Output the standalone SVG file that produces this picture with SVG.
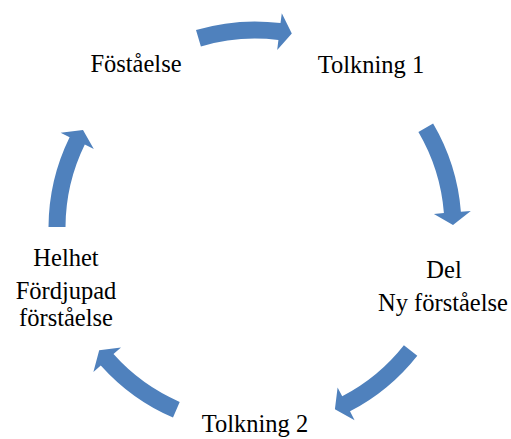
<svg xmlns="http://www.w3.org/2000/svg" width="511" height="439" viewBox="0 0 511 439">
<style>
.arrow{fill:#4F81BD;stroke:none}
.lbl{font-family:"Liberation Serif","Times New Roman",serif;font-size:24.5px;fill:#000;text-anchor:middle}
</style>
<rect width="511" height="439" fill="#fff"/>
<g id="connectors">
<path class="arrow" d="M196.0,30.1 A206.5,206.5 0 0 1 280.5,23.1 L281.8,13.2 L291.8,33.4 L277.2,49.9 L278.4,40.0 A189.5,189.5 0 0 0 200.9,46.4 Z"/>
<path class="arrow" d="M433.1,123.5 A206.5,206.5 0 0 1 460.9,211.8 L470.8,211.0 L453.0,224.9 L433.9,213.9 L443.9,213.1 A189.5,189.5 0 0 0 418.4,132.1 Z"/>
<path class="arrow" d="M417.3,355.7 A206.5,206.5 0 0 1 350.0,411.3 L354.6,420.2 L334.9,409.2 L337.6,387.4 L342.2,396.2 A189.5,189.5 0 0 0 403.9,345.2 Z"/>
<path class="arrow" d="M173.0,417.5 A206.5,206.5 0 0 1 100.8,365.4 L93.4,372.0 L99.2,350.2 L121.0,347.4 L113.5,354.1 A189.5,189.5 0 0 0 179.7,401.9 Z"/>
<path class="arrow" d="M48.5,226.9 A206.5,206.5 0 0 1 69.6,137.2 L60.6,132.8 L83.0,129.9 L93.8,149.0 L84.8,144.6 A189.5,189.5 0 0 0 65.5,227.0 Z"/>
</g>
<g id="node-fostaelse"><text class="lbl" x="136" y="72">Föståelse</text></g>
<g id="node-tolkning1"><text class="lbl" x="371" y="73">Tolkning 1</text></g>
<g id="node-del"><text class="lbl" x="444" y="278">Del</text><text class="lbl" x="443" y="311">Ny förståelse</text></g>
<g id="node-tolkning2"><text class="lbl" x="255" y="432">Tolkning 2</text></g>
<g id="node-helhet"><text class="lbl" x="66" y="266">Helhet</text><text class="lbl" x="66" y="299">Fördjupad</text><text class="lbl" x="66" y="326">förståelse</text></g>
</svg>
